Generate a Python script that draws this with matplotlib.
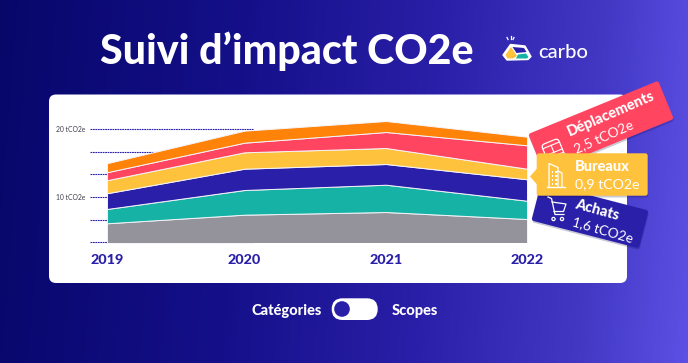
import numpy as np
import matplotlib
matplotlib.use('Agg')
import matplotlib.pyplot as plt
from matplotlib.patches import FancyBboxPatch, Polygon, Circle
from matplotlib.transforms import Affine2D
from matplotlib.colors import LinearSegmentedColormap

plt.rcParams['font.family'] = ['Lato', 'DejaVu Sans']

years = ['2019', '2020', '2021', '2022']
# stacked layers, tCO2e, bottom to top
autres = [6.12, 7.39, 7.78, 6.75]
numerique = [2.11, 3.64, 4.03, 2.70]
achats = [2.32, 3.14, 3.05, 3.16]
bureaux = [1.92, 2.42, 2.36, 1.56]
deplacements = [1.18, 1.42, 2.36, 3.45]
divers = [1.33, 1.77, 1.62, 1.27]
colors = ['#94939b', '#17b2a6', '#2a1fa8', '#ffc23c', '#ff4560', '#ff8209']

ytick_vals = [3.33, 6.67, 10, 13.33, 16.67, 20]
ytick_labels = ['', '', '10 tCO2e', '', '', '20 tCO2e']

W, H = 688, 363
NAVY = '#2a1fa8'
fig = plt.figure(figsize=(W / 100, H / 100), dpi=100)

# background gradient
bg = fig.add_axes([0, 0, 1, 1], zorder=0)
cmap = LinearSegmentedColormap.from_list('bg', [(0, '#07076a'), (0.35, '#15108a'), (0.62, '#2a1fa8'),
                                                (0.85, '#4238c4'), (1, '#5c50e4')])
gx, gy = np.meshgrid(np.linspace(0, 1, 344), np.linspace(0, 1, 182))
bg.imshow(cmap(gx * 0.96 + gy * 0.04), extent=(0, W, H, 0), aspect='auto')
bg.set_xlim(0, W)
bg.set_ylim(H, 0)
bg.axis('off')
bg.add_patch(FancyBboxPatch((49, 94.5), 578, 188.5, boxstyle='round,pad=0,rounding_size=7',
                            fc='white', ec='none'))

# chart, pixel x scale so the years sit where the reference has them
year_x = [107, 244.5, 386, 527]
ax_left, ax_bottom, ax_top = 90, 242.2, 100
ax = fig.add_axes([ax_left / W, 1 - ax_bottom / H, (627 - ax_left) / W, (ax_bottom - ax_top) / H], zorder=1)
ax.patch.set_alpha(0)
ax.stackplot(year_x, autres, numerique, achats, bureaux, deplacements, divers,
             colors=colors, edgecolor='#f4f4f8', linewidth=0.7, zorder=2)
ax.hlines(ytick_vals, ax_left, 253, color=NAVY, lw=0.8, linestyles=(0, (1.6, 0.6)), zorder=1, clip_on=False)
ax.set_xlim(ax_left, 627)
ax.set_ylim(3.33, 3.33 + (ax_bottom - ax_top) / 6.78)
ax.set_xticks(year_x, years, fontsize=10.4, fontweight='black', color=NAVY)
ax.set_yticks(ytick_vals, ytick_labels, fontsize=4.9, color='#3c3c4a')
ax.tick_params(axis='x', length=0, pad=8.5)
ax.tick_params(axis='y', length=0, pad=3)
for s in ax.spines.values():
    s.set_visible(False)

# overlay in pixel coordinates
ov = fig.add_axes([0, 0, 1, 1], zorder=2)
ov.set_xlim(0, W)
ov.set_ylim(H, 0)
ov.axis('off')
ov.patch.set_alpha(0)

ov.text(100, 64, 'Suivi d’impact CO2e', color='white', fontsize=29.6, fontweight='black', ha='left', va='baseline')
ov.text(538, 57.7, 'carbo', color='white', fontsize=14.5, fontweight='medium', ha='left', va='baseline')

# logo
ov.add_patch(Polygon([(503, 55), (510.5, 44.5), (525, 46), (531, 56.5), (528, 59.5), (507, 60)],
                     closed=True, fc='white', ec='white', lw=1, joinstyle='round'))
ov.add_patch(Polygon([(505.5, 55), (511, 47), (517, 56), (513, 58.5), (507.5, 58.5)], closed=True, fc='#ffc23c', ec='none'))
ov.add_patch(Polygon([(512.5, 47), (524, 48), (526.5, 52), (516.5, 53)], closed=True, fc=NAVY, ec='none'))
ov.add_patch(Polygon([(516, 58.5), (518, 54.5), (526, 53.5), (528.5, 57), (527, 58.5)], closed=True, fc='#17b2a6', ec='none'))
for x0, y0, x1, y1 in [(507, 37.5, 508, 39.5), (510.5, 36, 510.5, 39), (514, 37.5, 513, 39.5)]:
    ov.plot([x0, x1], [y0, y1], color='white', lw=0.9)


def tag(cx, cy, w, h, angle, color, z):
    tr = Affine2D().rotate_deg(angle).translate(cx, cy)
    shadow = FancyBboxPatch((-w / 2, -h / 2), w, h, boxstyle='round,pad=0,rounding_size=2.5', fc='#0a0a50', ec='none',
                            alpha=0.22, zorder=z - 0.1,
                            transform=Affine2D().rotate_deg(angle).translate(cx + 0.5, cy + 1.8) + ov.transData)
    ov.add_patch(shadow)
    ov.add_patch(FancyBboxPatch((-w / 2, -h / 2), w, h, boxstyle='round,pad=0,rounding_size=2.5', fc=color, ec='none',
                                zorder=z, transform=tr + ov.transData))


# red tag
tag(601, 126.5, 140.5, 41.3, -22.3, '#ff4560', 3)
ov.text(570, 136.7, 'Déplacements', color='white', fontsize=10.5, fontweight='black', rotation=23.5,
        rotation_mode='anchor', ha='left', va='baseline', zorder=4)
ov.text(576.7, 153, '2,5 tCO2e', color='white', fontsize=10, rotation=24,
        rotation_mode='anchor', ha='left', va='baseline', zorder=4)
# bus icon
bus = Affine2D().rotate_deg(-22.3).translate(553, 150) + ov.transData
ov.add_patch(FancyBboxPatch((-9, -9), 18, 20, boxstyle='round,pad=0,rounding_size=3.5', fc='none', ec='white', lw=0.9,
                            zorder=4, transform=bus))
for yy in (-5, 2.5, 6):
    ov.plot([-9, 9], [yy, yy], color='white', lw=0.8, zorder=4, transform=bus)
ov.plot([0, 0], [-5, 2.5], color='white', lw=0.8, zorder=4, transform=bus)

# blue tag
tag(590, 215.5, 111, 39, 14.5, NAVY, 3.5)
ov.text(574.3, 208.3, 'Achats', color='white', fontsize=10.5, fontweight='black', rotation=-15.5,
        rotation_mode='anchor', ha='left', va='baseline', zorder=4.5)
ov.text(571.7, 225, '1,6 tCO2e', color='white', fontsize=9.8, rotation=-16,
        rotation_mode='anchor', ha='left', va='baseline', zorder=4.5)

# yellow tag, sits over the two others
tag(592.2, 174.5, 111, 42.4, 0, '#ffc23c', 5)
ov.add_patch(Polygon([(537.5, 168), (530, 176.5), (537.5, 185)], closed=True, fc='#ffc23c', ec='none', zorder=5))
ov.text(575, 170.7, 'Bureaux', color='white', fontsize=10.5, fontweight='black', ha='left', va='baseline', zorder=6)
ov.text(575, 188.3, '0,9 tCO2e', color='white', fontsize=10.2, ha='left', va='baseline', zorder=6)
# building icon
ov.plot([546.5, 564.5], [186.5, 186.5], color='white', lw=1, zorder=6)
ov.plot([549, 549, 558, 558], [186.5, 163.5, 167.5, 186.5], color='white', lw=0.9, zorder=6)
ov.plot([558, 562, 562], [171, 173, 186.5], color='white', lw=0.9, zorder=6)
for wx in (551.5, 555):
    for wy in (171, 175, 179, 183):
        ov.add_patch(Polygon([(wx, wy), (wx + 1.5, wy), (wx + 1.5, wy + 1.5), (wx, wy + 1.5)], fc='white', ec='none', zorder=6))

# cart icon
ov.plot([548, 551.5, 555, 564], [197, 198.5, 214.5, 214.5], color='white', lw=0.9, zorder=6)
ov.plot([552, 566, 563.5, 554], [202, 204, 211.5, 211.5], color='white', lw=0.9, zorder=6)
ov.add_patch(Circle((553.5, 219), 1.6, fc='none', ec='white', lw=0.9, zorder=6))
ov.add_patch(Circle((562, 219), 1.6, fc='none', ec='white', lw=0.9, zorder=6))

# toggle
ov.text(251, 315, 'Catégories', color='white', fontsize=10.5, fontweight='black', ha='left', va='baseline')
ov.text(391.7, 315, 'Scopes', color='white', fontsize=10.5, fontweight='black', ha='left', va='baseline')
ov.add_patch(FancyBboxPatch((331.7, 298.3), 46, 21.7, boxstyle='round,pad=0,rounding_size=10.8', fc='white', ec='none'))
ov.add_patch(Circle((342, 309), 7.8, fc=NAVY, ec='none'))

fig.savefig('out.png', dpi=100)
